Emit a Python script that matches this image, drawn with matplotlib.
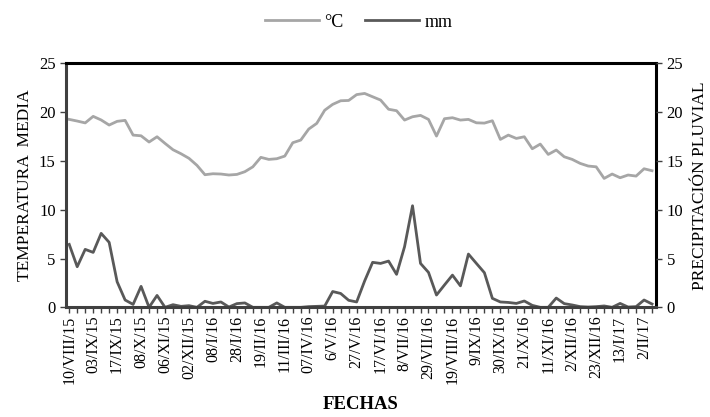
import matplotlib
matplotlib.use("Agg")
import matplotlib.pyplot as plt
import numpy as np

plt.rcParams['font.family'] = ['Liberation Serif', 'DejaVu Serif']

tick_labels = ["10/VIII/15", "03/IX/15", "17/IX/15", "08/X/15", "06/XI/15", "02/XII/15",
               "08/I/16", "28/I/16", "19/II/16", "11/III/16", "07/IV/16", "6/V/16",
               "27/V/16", "17/VI/16", "8/VII/16", "29/VII/16", "19/VIII/16", "9/IX/16",
               "30/IX/16", "21/X/16", "11/XI/16", "2/XII/16", "23/XII/16", "13/I/17", "2/II/17"]

temperatura = [19.26, 19.09, 18.9, 19.57, 19.2, 18.68, 19.06, 19.16, 17.65, 17.58,
               16.94, 17.48, 16.8, 16.15, 15.74, 15.27, 14.55, 13.59, 13.69, 13.66,
               13.56, 13.62, 13.9, 14.4, 15.37, 15.16, 15.23, 15.5, 16.87, 17.14,
               18.27, 18.85, 20.2, 20.8, 21.17, 21.2, 21.8, 21.92, 21.58, 21.24,
               20.3, 20.15, 19.19, 19.53, 19.67, 19.26, 17.55, 19.33, 19.43, 19.19,
               19.26, 18.91, 18.88, 19.12, 17.21, 17.65, 17.31, 17.48, 16.25, 16.73,
               15.67, 16.12, 15.43, 15.16, 14.75, 14.48, 14.4, 13.21, 13.66, 13.28,
               13.56, 13.45, 14.2, 14.0]

precipitacion = [6.45, 4.16, 5.94, 5.63, 7.58, 6.66, 2.62, 0.75, 0.3, 2.15,
                 0.0, 1.22, 0.0, 0.27, 0.1, 0.17, 0.0, 0.62, 0.4, 0.55,
                 0.03, 0.38, 0.45, 0.0, 0.0, 0.0, 0.45, 0.0, 0.0, 0.0,
                 0.07, 0.1, 0.13, 1.62, 1.42, 0.72, 0.55, 2.7, 4.61, 4.5,
                 4.74, 3.38, 6.21, 10.41, 4.5, 3.58, 1.26, 2.29, 3.3, 2.2,
                 5.46, 4.5, 3.55, 0.92, 0.55, 0.5, 0.4, 0.65, 0.2, 0.0,
                 0.0, 0.95, 0.38, 0.24, 0.07, 0.03, 0.07, 0.14, 0.0, 0.4,
                 0.03, 0.07, 0.75, 0.34]

x = np.arange(len(temperatura))

fig = plt.figure(figsize=(7.1, 4.17), dpi=100)
ax = fig.add_axes([0.093, 0.263, 0.831, 0.585])

l1, = ax.plot(x, temperatura, color='#A6A6A6', lw=2.0, label='°C', solid_joinstyle='round')
l2, = ax.plot(x, precipitacion, color='#595959', lw=2.0, label='mm', solid_joinstyle='round')

ax.set_xlim(-0.4, len(x) - 0.5)
ax.set_ylim(0, 25)
ax.set_yticks([0, 5, 10, 15, 20, 25])
ax.set_xticks(x, minor=True)
ax.set_xticks(x[::3])
ax.set_xticklabels(tick_labels, rotation=90, fontsize=11.5)
ax.tick_params(axis='x', which='both', direction='out', length=4, width=1, color='#404040', pad=2)
ax.tick_params(axis='y', direction='out', length=4, width=1, color='#404040', labelsize=12)

for side in ['top', 'right']:
    ax.spines[side].set_color('black')
    ax.spines[side].set_linewidth(2.2)
for side in ['left', 'bottom']:
    ax.spines[side].set_color('#404040')
    ax.spines[side].set_linewidth(2.2)

ax2 = ax.twinx()
ax2.set_ylim(0, 25)
ax2.set_yticks([0, 5, 10, 15, 20, 25])
ax2.tick_params(axis='y', direction='out', length=4, width=1, color='#404040', labelsize=12)
for s in ax2.spines.values():
    s.set_visible(False)

ax.set_ylabel('TEMPERATURA  MEDIA', fontsize=12.5, labelpad=4)
ax2.set_ylabel('PRECIPITACIÓN PLUVIAL', fontsize=12.5, labelpad=6)
fig.text(0.508, 0.03, 'FECHAS', ha='center', va='center', fontsize=13.5, fontweight='bold')

fig.legend(handles=[l1, l2], loc='center', bbox_to_anchor=(0.505, 0.947), ncol=2,
           frameon=False, fontsize=13, handlelength=3.0, columnspacing=1.2, handletextpad=0.3)

fig.savefig('out.png', dpi=100)
